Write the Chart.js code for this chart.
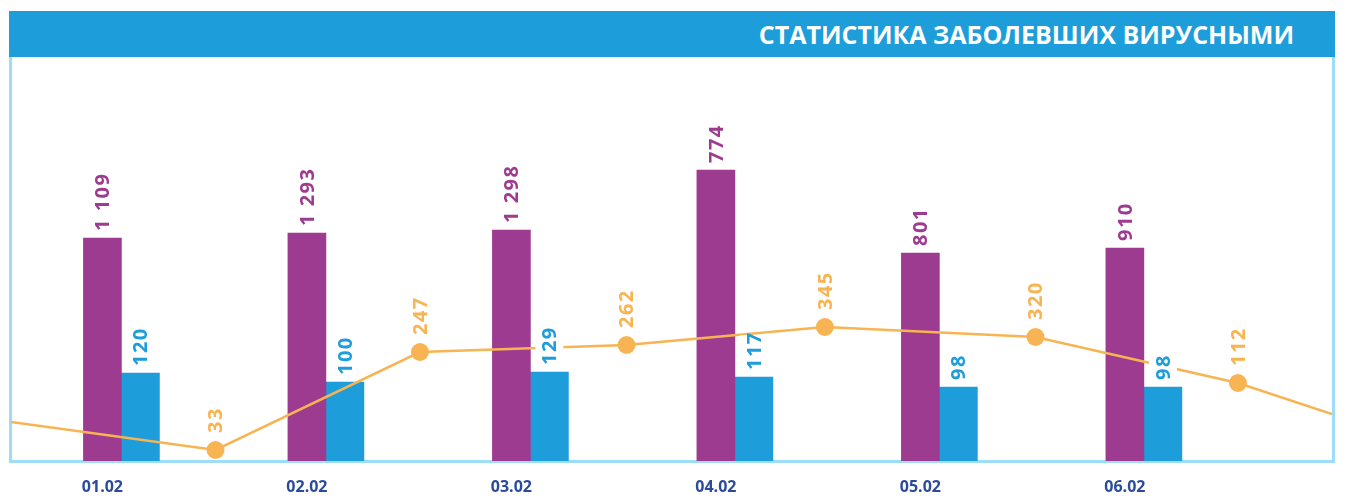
<!DOCTYPE html>
<html>
<head>
<meta charset="utf-8">
<script src="https://cdn.jsdelivr.net/npm/chart.js@4.4.1/dist/chart.umd.min.js"></script>
<style>
  html, body { margin: 0; padding: 0; background: #fff; }
  #wrap { position: relative; width: 1348px; height: 496px; overflow: hidden; }
  #header {
    position: absolute; left: 9px; top: 11px; width: 1326px; height: 46px;
    background: #1d9dd9; color: #fff;
    font: bold 25px "Open Sans", sans-serif;
    display: flex; align-items: center; justify-content: flex-end;
    padding-right: 41px; box-sizing: border-box;
  }
  #frame {
    position: absolute; left: 9px; top: 57px; width: 1326px; height: 406px;
    border: 3px solid #9edcf7; border-top: none; box-sizing: border-box;
  }
  #myChart { position: absolute; left: 0; top: 0; }
</style>
</head>
<body>
<div id="wrap">
  <div id="header">СТАТИСТИКА ЗАБОЛЕВШИХ ВИРУСНЫМИ</div>
  <div id="frame"></div>
  <canvas id="myChart" width="1348" height="496"></canvas>
</div>
<script>
// dates under the bar groups
const days = ['01.02', '02.02', '03.02', '04.02', '05.02', '06.02'];

// printed numbers and drawn heights (the picture does not scale bars to the numbers)
const purpleCounts = [1109, 1293, 1298, 774, 801, 910];
const purpleHeights = [223, 228, 231, 291, 208, 213];

const blueCounts = [120, 100, 129, 117, 98, 98];
const blueHeights = [88, 79, 89, 84, 74, 74];

const orangeCounts = [33, 247, 262, 345, 320, 112];
const orangeHeights = [11, 109, 116, 134, 124, 78];
const orangeX = [0.46, 1.46, 2.47, 3.44, 4.47, 5.46];
// where the orange line leaves the frame on the left and right
const lineEdgeX = [-0.54, 5.92];
const lineEdgeHeights = [39, 47];

const purple = '#9d3b91';
const blue = '#1d9dd9';
const orange = '#f8b452';
const navy = '#2a4a9a';

function fmt(n) {
    return String(n).replace(/\B(?=(\d{3})+(?!\d))/g, ' ');
}

// line data with the two edge points added
const lineData = [{ x: lineEdgeX[0], y: lineEdgeHeights[0] }];
orangeX.forEach((x, i) => lineData.push({ x: x, y: orangeHeights[i] }));
lineData.push({ x: lineEdgeX[1], y: lineEdgeHeights[1] });
const lineCounts = [null, ...orangeCounts, null];
const lineRadius = lineData.map((p, i) => (i === 0 || i === lineData.length - 1) ? 0 : 9);

// vertical value labels with a white backing
const valueLabels = {
    id: 'valueLabels',
    afterDatasetsDraw(chart) {
        const ctx = chart.ctx;
        chart.data.datasets.forEach((ds, di) => {
            const meta = chart.getDatasetMeta(di);
            meta.data.forEach((el, i) => {
                const n = ds.counts[i];
                if (n == null) return;
                const text = fmt(n);
                ctx.save();
                ctx.font = 'bold 20px "Open Sans", sans-serif';
                ctx.letterSpacing = '1.5px';
                const w = ctx.measureText(text).width;
                const gap = ds.type === 'line' ? 17 : 7;
                ctx.translate(el.x, el.y - gap);
                ctx.rotate(-Math.PI / 2);
                ctx.fillStyle = '#fff';
                ctx.fillRect(-2, -14, w - 2, 28);
                ctx.fillStyle = ds.labelColor;
                ctx.textAlign = 'left';
                ctx.textBaseline = 'middle';
                ctx.fillText(text, 0, 1);
                ctx.restore();
            });
        });
    }
};

const ctx = document.getElementById('myChart');

new Chart(ctx, {
    type: 'bar',
    data: {
        datasets: [
            {
                type: 'line',
                data: lineData,
                counts: lineCounts,
                labelColor: orange,
                borderColor: orange,
                borderWidth: 2.5,
                backgroundColor: orange,
                pointRadius: lineRadius,
                pointBackgroundColor: orange,
                pointBorderWidth: 0,
                tension: 0
            },
            {
                data: purpleHeights.map((h, i) => ({ x: i, y: h })),
                counts: purpleCounts,
                labelColor: purple,
                backgroundColor: purple,
                barThickness: 38
            },
            {
                data: blueHeights.map((h, i) => ({ x: i, y: h })),
                counts: blueCounts,
                labelColor: blue,
                backgroundColor: blue,
                barThickness: 38
            }
        ]
    },
    options: {
        responsive: false,
        animation: false,
        layout: { padding: { left: 11, right: 16, top: 61, bottom: 0 } },
        plugins: { legend: { display: false }, tooltip: { enabled: false } },
        scales: {
            x: {
                type: 'linear',
                offset: false,
                min: -0.54,
                max: 5.92,
                grid: { display: false, drawTicks: false },
                border: { display: false },
                afterFit: scale => { scale.height = 35; },
                ticks: {
                    stepSize: 1,
                    includeBounds: false,
                    autoSkip: false,
                    maxRotation: 0,
                    labelOffset: -19,
                    padding: 17,
                    color: navy,
                    font: { family: 'Open Sans', size: 16, weight: 'bold' },
                    callback: v => Number.isInteger(v) ? days[v] : ''
                }
            },
            y: {
                display: false,
                min: 0,
                max: 400
            }
        }
    },
    plugins: [valueLabels]
});
</script>
</body>
</html>
